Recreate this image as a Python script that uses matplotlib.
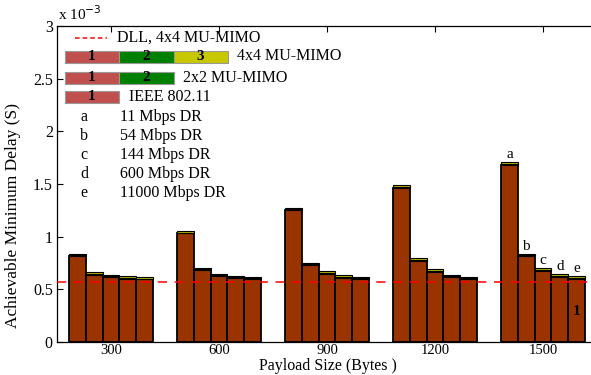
import matplotlib.pyplot as plt
from matplotlib.patches import Rectangle
import numpy as np

# ----------------------------
# data (delay in units of 1e-3 s)
# ----------------------------
sizes = [300, 600, 900, 1200, 1500]
rates = ["a", "b", "c", "d", "e"]
rate_labels = ["11 Mbps DR", "54 Mbps DR", "144 Mbps DR", "600 Mbps DR", "11000 Mbps DR"]

# part 1 (IEEE 802.11) per data rate, per payload size
delay_1 = {
    "a": [0.814, 1.031, 1.250, 1.466, 1.683],
    "b": [0.640, 0.684, 0.728, 0.772, 0.817],
    "c": [0.616, 0.627, 0.649, 0.668, 0.678],
    "d": [0.601, 0.605, 0.610, 0.616, 0.621],
    "e": [0.594, 0.595, 0.598, 0.598, 0.601],
}
# extra parts for 2x2 and 4x4 MU-MIMO (very thin)
delay_2 = [0.008] * 5
delay_3 = [0.014] * 5
dll_4x4 = 0.57

plt.rcParams['font.family'] = ['Liberation Serif', 'DejaVu Serif']

fig = plt.figure(figsize=(5.91, 3.75), dpi=100)
ax = fig.add_axes([57/591, 33/375, 540/591, 316/375])

bw = 46.7
c1, c2, c3 = "#993300", "#4d7a00", "#b5b500"
for k, r in enumerate(rates):
    x = np.array(sizes) + (k - 2) * bw
    b1 = np.array(delay_1[r])
    ax.bar(x, b1, bw, color=c1, edgecolor="black", linewidth=1.3, zorder=2)
    ax.bar(x, delay_2, bw, bottom=b1, color=c2, edgecolor="black", linewidth=0.8, zorder=2)
    ax.bar(x, delay_3, bw, bottom=b1 + np.array(delay_2), color=c3,
           edgecolor="black", linewidth=0.8, zorder=2)
    top = b1[-1] + delay_2[-1] + delay_3[-1]
    ax.text(x[-1], top + 0.01, r, ha="center", va="bottom", fontsize=11)
ax.text(sizes[-1] + 2 * bw, 0.29, "1", ha="center", va="center", fontsize=11,
        fontweight="bold")

ax.axhline(dll_4x4, color="red", linestyle=(0, (6, 5)), linewidth=1.1, zorder=3)

ax.set_xlim(150, 1650)
ax.set_ylim(0, 3)
ax.set_xticks(sizes)
ax.set_yticks(np.arange(0, 3.01, 0.5))
ax.set_yticklabels(["0", "0.5", "1", "1.5", "2", "2.5", "3"])
ax.tick_params(direction="in", top=True, right=True, labelsize=11.5, length=4, width=0.8,
               pad=3)
ax.tick_params(axis="x", labelsize=10.5, pad=1.5)
for s in ax.spines.values():
    s.set_linewidth(0.9)

fig.text(328/591, 1 - 369.5/375, "Payload Size (Bytes )", fontsize=11.5,
         ha="center", va="baseline")
fig.text(13/591, 1 - 216/375, "Achievable Minimum Delay (S)", fontsize=12.5,
         rotation=90, ha="center", va="center")
fig.text(58/591, 1 - 20/375, r"x 10$^{-3}$", fontsize=11, va="baseline")

# ----------------------------
# hand-made legend (pixel positions -> axes fraction)
# ----------------------------
def fx(px):
    return (px - 57) / 540

def fy(py):
    return (342 - py) / 316

ax.plot([fx(75), fx(107)], [fy(38), fy(38)], color="red", linestyle=(0, (3, 2)),
        linewidth=1.1, transform=ax.transAxes, clip_on=False)
ax.text(fx(117), fy(38), "DLL, 4x4 MU-MIMO", fontsize=11.5, va="center",
        transform=ax.transAxes)

leg_cols = ["#c0504d", "#008000", "#c8c800"]
rows = [(56.5, 3, "4x4 MU-MIMO", 237), (77.5, 2, "2x2 MU-MIMO", 183), (97, 1, "IEEE 802.11", 129)]
for cy, n, label, tx in rows:
    for i in range(n):
        x0 = 65 + i * 54.3
        ax.add_patch(Rectangle((fx(x0), fy(cy + 6)), 54.3 / 540, 12 / 316,
                               facecolor=leg_cols[i], edgecolor="#999999", linewidth=0.8,
                               transform=ax.transAxes, clip_on=False, zorder=4))
        ax.text(fx(x0 + 27), fy(cy), str(i + 1), fontsize=11, fontweight="bold",
                ha="center", va="center", transform=ax.transAxes, zorder=5)
    ax.text(fx(tx), fy(cy), label, fontsize=11.5, va="center", transform=ax.transAxes)

for k, (r, lab) in enumerate(zip(rates, rate_labels)):
    py = 117 + k * 19
    ax.text(fx(84), fy(py), r, fontsize=11.5, ha="center", va="center", transform=ax.transAxes)
    ax.text(fx(120), fy(py), lab, fontsize=11.5, va="center", transform=ax.transAxes)

fig.savefig("out.png", dpi=100)
